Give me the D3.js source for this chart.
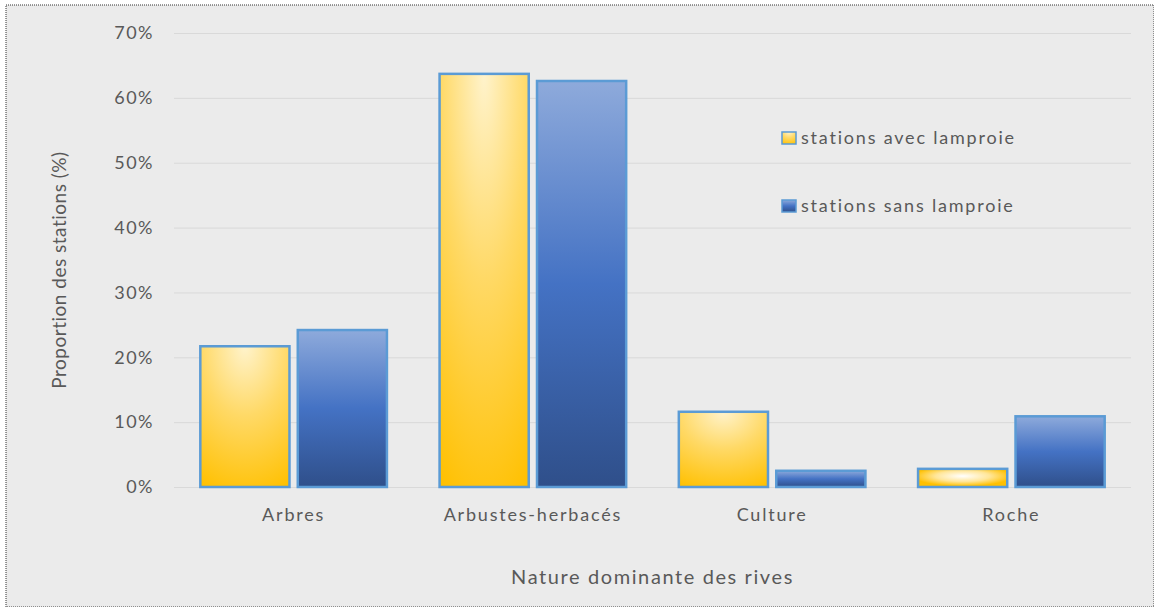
<!DOCTYPE html>
<html>
<head>
<meta charset="utf-8">
<script src="https://cdn.jsdelivr.net/npm/d3@7"></script>
<style>
  body { margin: 0; background: #fff; }
  svg { display: block; }
  text { font-family: Lato, "Open Sans", sans-serif; fill: #595959; }
</style>
</head>
<body>
<div id="chart"></div>
<script>
// data
var categories = ["Arbres", "Arbustes-herbacés", "Culture", "Roche"];
var seriesNames = ["stations avec lamproie", "stations sans lamproie"];
var avecValues = [21.7, 63.7, 11.6, 2.8];
var sansValues = [24.2, 62.6, 2.5, 10.9];
var yTicks = [0, 10, 20, 30, 40, 50, 60, 70];

var W = 1154, H = 607;
var margin = {top: 33, right: 23, bottom: 120, left: 174};
var width = W - margin.left - margin.right,
    height = H - margin.top - margin.bottom;

var svg = d3.select("#chart").append("svg")
    .attr("width", W)
    .attr("height", H);

// background and dotted frame
svg.append("rect")
    .attr("x", 6).attr("y", 5)
    .attr("width", W - 6).attr("height", H - 5)
    .attr("fill", "#ebebeb")
    .attr("stroke", "#333")
    .attr("stroke-width", 1)
    .attr("stroke-dasharray", "1,1");

var defs = svg.append("defs");

// yellow: radial glow from the top
var gy = defs.append("radialGradient")
    .attr("id", "gradYellow")
    .attr("cx", "50%").attr("cy", "0%").attr("r", "110%")
    .attr("fx", "50%").attr("fy", "0%");
gy.append("stop").attr("offset", "0%").attr("stop-color", "#fff3cc");
gy.append("stop").attr("offset", "45%").attr("stop-color", "#ffd966");
gy.append("stop").attr("offset", "100%").attr("stop-color", "#ffc000");

// yellow for short bars: glow from the center
var gy2 = defs.append("radialGradient")
    .attr("id", "gradYellowFlat")
    .attr("cx", "50%").attr("cy", "40%").attr("r", "55%");
gy2.append("stop").attr("offset", "0%").attr("stop-color", "#ffffff");
gy2.append("stop").attr("offset", "55%").attr("stop-color", "#ffe699");
gy2.append("stop").attr("offset", "100%").attr("stop-color", "#ffc000");

// blue: vertical linear
var gb = defs.append("linearGradient")
    .attr("id", "gradBlue")
    .attr("x1", 0).attr("y1", 0).attr("x2", 0).attr("y2", 1);
gb.append("stop").attr("offset", "0%").attr("stop-color", "#8eaadb");
gb.append("stop").attr("offset", "50%").attr("stop-color", "#4472c4");
gb.append("stop").attr("offset", "100%").attr("stop-color", "#2f4f8a");

var chart = svg.append("g")
    .attr("transform", "translate(" + margin.left + "," + margin.top + ")");

var x = d3.scaleBand()
    .domain(categories)
    .range([0, width])
    .paddingInner(0.22)
    .paddingOuter(0.11);

var x1 = d3.scaleBand()
    .domain(seriesNames)
    .range([0, x.bandwidth()])
    .paddingInner(0.085);

var y = d3.scaleLinear()
    .domain([0, 70])
    .range([height, 0]);

// gridlines
chart.append("g")
    .selectAll("line")
    .data(yTicks)
  .enter().append("line")
    .attr("x1", 0).attr("x2", width)
    .attr("y1", function(d) { return y(d) + 0.5; })
    .attr("y2", function(d) { return y(d) + 0.5; })
    .attr("stroke", "#d9d9d9")
    .attr("stroke-width", 1);

// y axis labels
var yAxis = d3.axisLeft(y)
    .tickValues(yTicks)
    .tickSize(0)
    .tickPadding(20)
    .tickFormat(function(d) { return d + "%"; });
chart.append("g")
    .attr("class", "y axis")
    .call(yAxis)
    .call(function(g) { g.select(".domain").remove(); })
    .selectAll("text")
    .style("font-size", "18px")
    .style("letter-spacing", "1.5px")
    .attr("fill", "#595959");

// x axis labels
var xAxis = d3.axisBottom(x).tickSize(0).tickPadding(21);
chart.append("g")
    .attr("class", "x axis")
    .attr("transform", "translate(0," + height + ")")
    .call(xAxis)
    .call(function(g) { g.select(".domain").remove(); })
    .selectAll("text")
    .style("font-size", "18px")
    .style("letter-spacing", "1.8px")
    .attr("fill", "#595959");

// bars
var rows = categories.map(function(c, i) {
  return {cat: c, values: [
    {name: seriesNames[0], value: avecValues[i]},
    {name: seriesNames[1], value: sansValues[i]}
  ]};
});

var groups = chart.selectAll(".group")
    .data(rows)
  .enter().append("g")
    .attr("class", "group")
    .attr("transform", function(d) { return "translate(" + x(d.cat) + ",0)"; });

groups.selectAll("rect")
    .data(function(d) { return d.values; })
  .enter().append("rect")
    .attr("x", function(d) { return x1(d.name); })
    .attr("y", function(d) { return y(d.value); })
    .attr("width", x1.bandwidth())
    .attr("height", function(d) { return height - y(d.value); })
    .attr("fill", function(d) {
      if (d.name === seriesNames[1]) return "url(#gradBlue)";
      return (height - y(d.value)) < 40 ? "url(#gradYellowFlat)" : "url(#gradYellow)";
    })
    .attr("stroke", "#5b9bd5")
    .attr("stroke-width", 2.5);

// legend
var legend = svg.append("g")
    .attr("transform", "translate(781,138)");
seriesNames.forEach(function(name, i) {
  var row = legend.append("g")
      .attr("transform", "translate(0," + (i * 68) + ")");
  row.append("rect")
      .attr("x", 1).attr("y", -6)
      .attr("width", 14).attr("height", 12)
      .attr("fill", i === 0 ? "url(#gradYellow)" : "url(#gradBlue)")
      .attr("stroke", "#5b9bd5")
      .attr("stroke-width", 1.5);
  row.append("text")
      .attr("x", 20)
      .attr("dy", "0.35em")
      .style("font-size", "18px")
      .style("letter-spacing", "1.8px")
      .text(name);
});

// axis titles
svg.append("text")
    .attr("transform", "translate(66," + (margin.top + height / 2 + 10) + ") rotate(-90)")
    .attr("text-anchor", "middle")
    .style("font-size", "19px")
    .style("letter-spacing", "0.5px")
    .text("Proportion des stations (%)");

svg.append("text")
    .attr("x", margin.left + width / 2)
    .attr("y", 584)
    .attr("text-anchor", "middle")
    .style("font-size", "20px")
    .style("letter-spacing", "1.6px")
    .text("Nature dominante des rives");
</script>
</body>
</html>
